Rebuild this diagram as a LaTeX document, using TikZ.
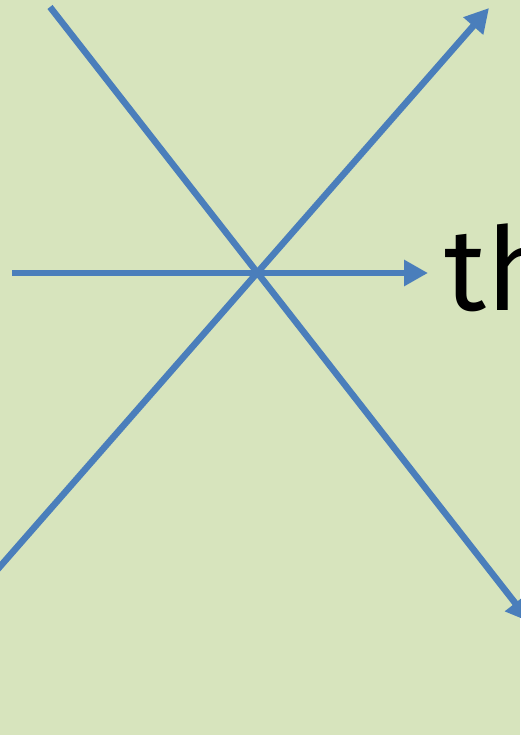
\documentclass[tikz,border=0pt]{standalone}
\usepackage{fontspec}
\setmainfont{Fira Sans}
\usetikzlibrary{arrows.meta}
\definecolor{boardgreen}{HTML}{D7E4BD}
\definecolor{rayblue}{HTML}{4A7EBB}

\begin{document}
\begin{tikzpicture}[
  x=1pt,
  y=-1pt,
  line join=round,
  ray/.style={draw=rayblue,line width=6.5pt},
  rayarrow/.style={ray,-{Triangle[length=24pt,width=25pt]}},
  label/.style={font=\fontsize{116}{116}\selectfont,text=black,inner sep=0pt}
]
  % Page frame and background.
  \useasboundingbox (0,0) rectangle (520,735);
  \fill[boardgreen] (0,0) rectangle (520,735);

  % End points of the three rays.
  \coordinate (hstart) at (12,273);
  \coordinate (hend) at (428,273);
  \coordinate (dstart) at (50,7);
  \coordinate (dend) at (530,622);
  \coordinate (ustart) at (-10,578);
  \coordinate (uend) at (489,8);

  % Rays through the common point.
  \draw[rayarrow] (hstart) -- (hend);
  \draw[rayarrow] (dstart) -- (dend);
  \draw[rayarrow] (ustart) -- (uend);

  % Word cut off by the right edge.
  \node[label,anchor=base west] (word) at (444,310) {th};
\end{tikzpicture}
\end{document}
